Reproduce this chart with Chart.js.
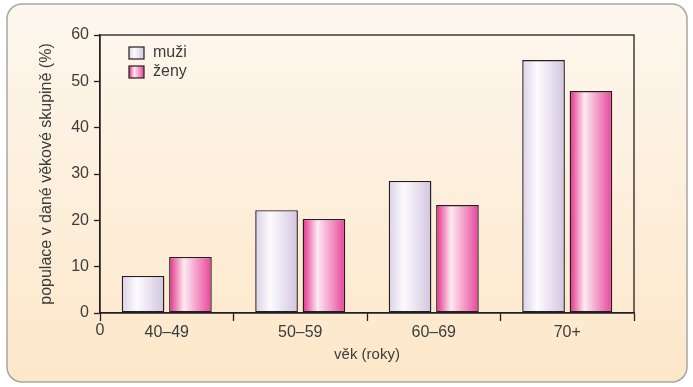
<!DOCTYPE html>
<html>
<head>
<meta charset="utf-8">
<script src="https://cdn.jsdelivr.net/npm/chart.js@4/dist/chart.umd.min.js"></script>
<style>
  html, body { margin: 0; padding: 0; background: #ffffff; }
  #wrap { width: 693px; height: 387px; }
</style>
</head>
<body>
<div id="wrap"><canvas id="graf"></canvas></div>
<script>
"use strict";
const kategorie = ['40–49', '50–59', '60–69', '70+'];
const muzi = [8, 22.2, 28.5, 54.6];
const zeny = [12.1, 20.3, 23.3, 47.9];
const popisky = ['muži', 'ženy'];

const pismo = '"Liberation Sans", Arial, sans-serif';
const barvaTextu = '#3c3c3c';

// stops for the horizontal "cylinder" shading of each bar
const prechody = [
    [[0, '#dad1e7'], [0.35, '#fcfbfe'], [1, '#d2c5e0']],
    [[0, '#e42c88'], [0.35, '#fdeaf2'], [1, '#e8449a']]
];

function udelejPrechod(ctx, x0, x1, stops) {
    const g = ctx.createLinearGradient(x0, 0, x1, 0);
    stops.forEach(s => g.addColorStop(s[0], s[1]));
    return g;
}

const pozadi = {
    id: 'pozadi',
    beforeDraw(chart) {
        const ctx = chart.ctx;
        const x = 7, y = 4, w = 680, h = 378, r = 15;
        ctx.save();
        const g = ctx.createLinearGradient(0, y, 0, y + h);
        g.addColorStop(0, '#fdf7ee');
        g.addColorStop(1, '#fde7c9');
        ctx.beginPath();
        ctx.roundRect(x, y, w, h, r);
        ctx.fillStyle = g;
        ctx.fill();
        ctx.lineWidth = 1.5;
        ctx.strokeStyle = '#a8a6a4';
        ctx.stroke();
        ctx.restore();
    }
};

const sloupce = {
    id: 'sloupce',
    beforeDatasetsDraw(chart) {
        const ctx = chart.ctx;
        chart.data.datasets.forEach((ds, i) => {
            chart.getDatasetMeta(i).data.forEach(el => {
                const left = el.x - el.width / 2;
                const g = udelejPrechod(ctx, left, left + el.width, prechody[i]);
                el.options = Object.assign({}, el.options, { backgroundColor: g });
            });
        });
    },
    afterDraw(chart) {
        const ctx = chart.ctx;
        const a = chart.chartArea;
        ctx.save();
        // frame around the plot
        ctx.strokeStyle = '#231f20';
        ctx.lineWidth = 1.3;
        ctx.strokeRect(a.left, a.top, a.right - a.left, a.bottom - a.top);
        // origin label under the axis
        ctx.fillStyle = barvaTextu;
        ctx.font = '16px ' + pismo;
        ctx.textAlign = 'center';
        ctx.textBaseline = 'middle';
        ctx.fillText('0', a.left, 331);
        // legend inside the plot
        chart.data.datasets.forEach((ds, i) => {
            const bx = a.left + 29, by = a.top + 12 + i * 19, bw = 15, bh = 12;
            ctx.fillStyle = udelejPrechod(ctx, bx, bx + bw, prechody[i]);
            ctx.fillRect(bx, by, bw, bh);
            ctx.lineWidth = 1.2;
            ctx.strokeStyle = '#231f20';
            ctx.strokeRect(bx, by, bw, bh);
            ctx.fillStyle = barvaTextu;
            ctx.textAlign = 'left';
            ctx.font = '16px ' + pismo;
            ctx.fillText(ds.label, bx + 24, by + bh / 2);
        });
        ctx.restore();
    }
};

const ctxGraf = document.getElementById('graf').getContext('2d');
const graf = new Chart(ctxGraf, {
    type: 'bar',
    data: {
        labels: kategorie,
        datasets: [{
            label: popisky[0],
            data: muzi,
            backgroundColor: '#e6e0ef',
            borderColor: '#231f20',
            borderWidth: 1.4,
            borderSkipped: false
        }, {
            label: popisky[1],
            data: zeny,
            backgroundColor: '#ec5ca0',
            borderColor: '#231f20',
            borderWidth: 1.4,
            borderSkipped: false
        }]
    },
    options: {
        responsive: true,
        maintainAspectRatio: false,
        animation: false,
        categoryPercentage: 0.71,
        barPercentage: 0.9,
        layout: { padding: { left: 0, right: 59, top: 35, bottom: 0 } },
        plugins: {
            legend: { display: false },
            tooltip: { enabled: false }
        },
        scales: {
            x: {
                afterFit: s => { s.height = 74; },
                grid: { offset: true, drawOnChartArea: false, tickLength: 8, tickColor: '#231f20', tickWidth: 1.3 },
                border: { color: '#231f20', width: 1.3 },
                ticks: { color: barvaTextu, font: { family: pismo, size: 16 }, padding: 2, maxRotation: 0 },
                title: {
                    display: true,
                    text: 'věk (roky)',
                    color: barvaTextu,
                    font: { family: pismo, size: 15 },
                    padding: { top: 0, bottom: 23 }
                }
            },
            y: {
                min: 0,
                max: 60,
                afterFit: s => { s.width = 100; },
                grid: { drawOnChartArea: false, tickLength: 6, tickColor: '#231f20', tickWidth: 1.3 },
                border: { color: '#231f20', width: 1.3 },
                ticks: { stepSize: 10, color: barvaTextu, font: { family: pismo, size: 16 }, padding: 5 },
                title: {
                    display: true,
                    text: 'populace v dané věkové skupině (%)',
                    color: barvaTextu,
                    font: { family: pismo, size: 16 },
                    padding: { top: 37, bottom: 0 }
                }
            }
        }
    },
    plugins: [pozadi, sloupce]
});
</script>
</body>
</html>
